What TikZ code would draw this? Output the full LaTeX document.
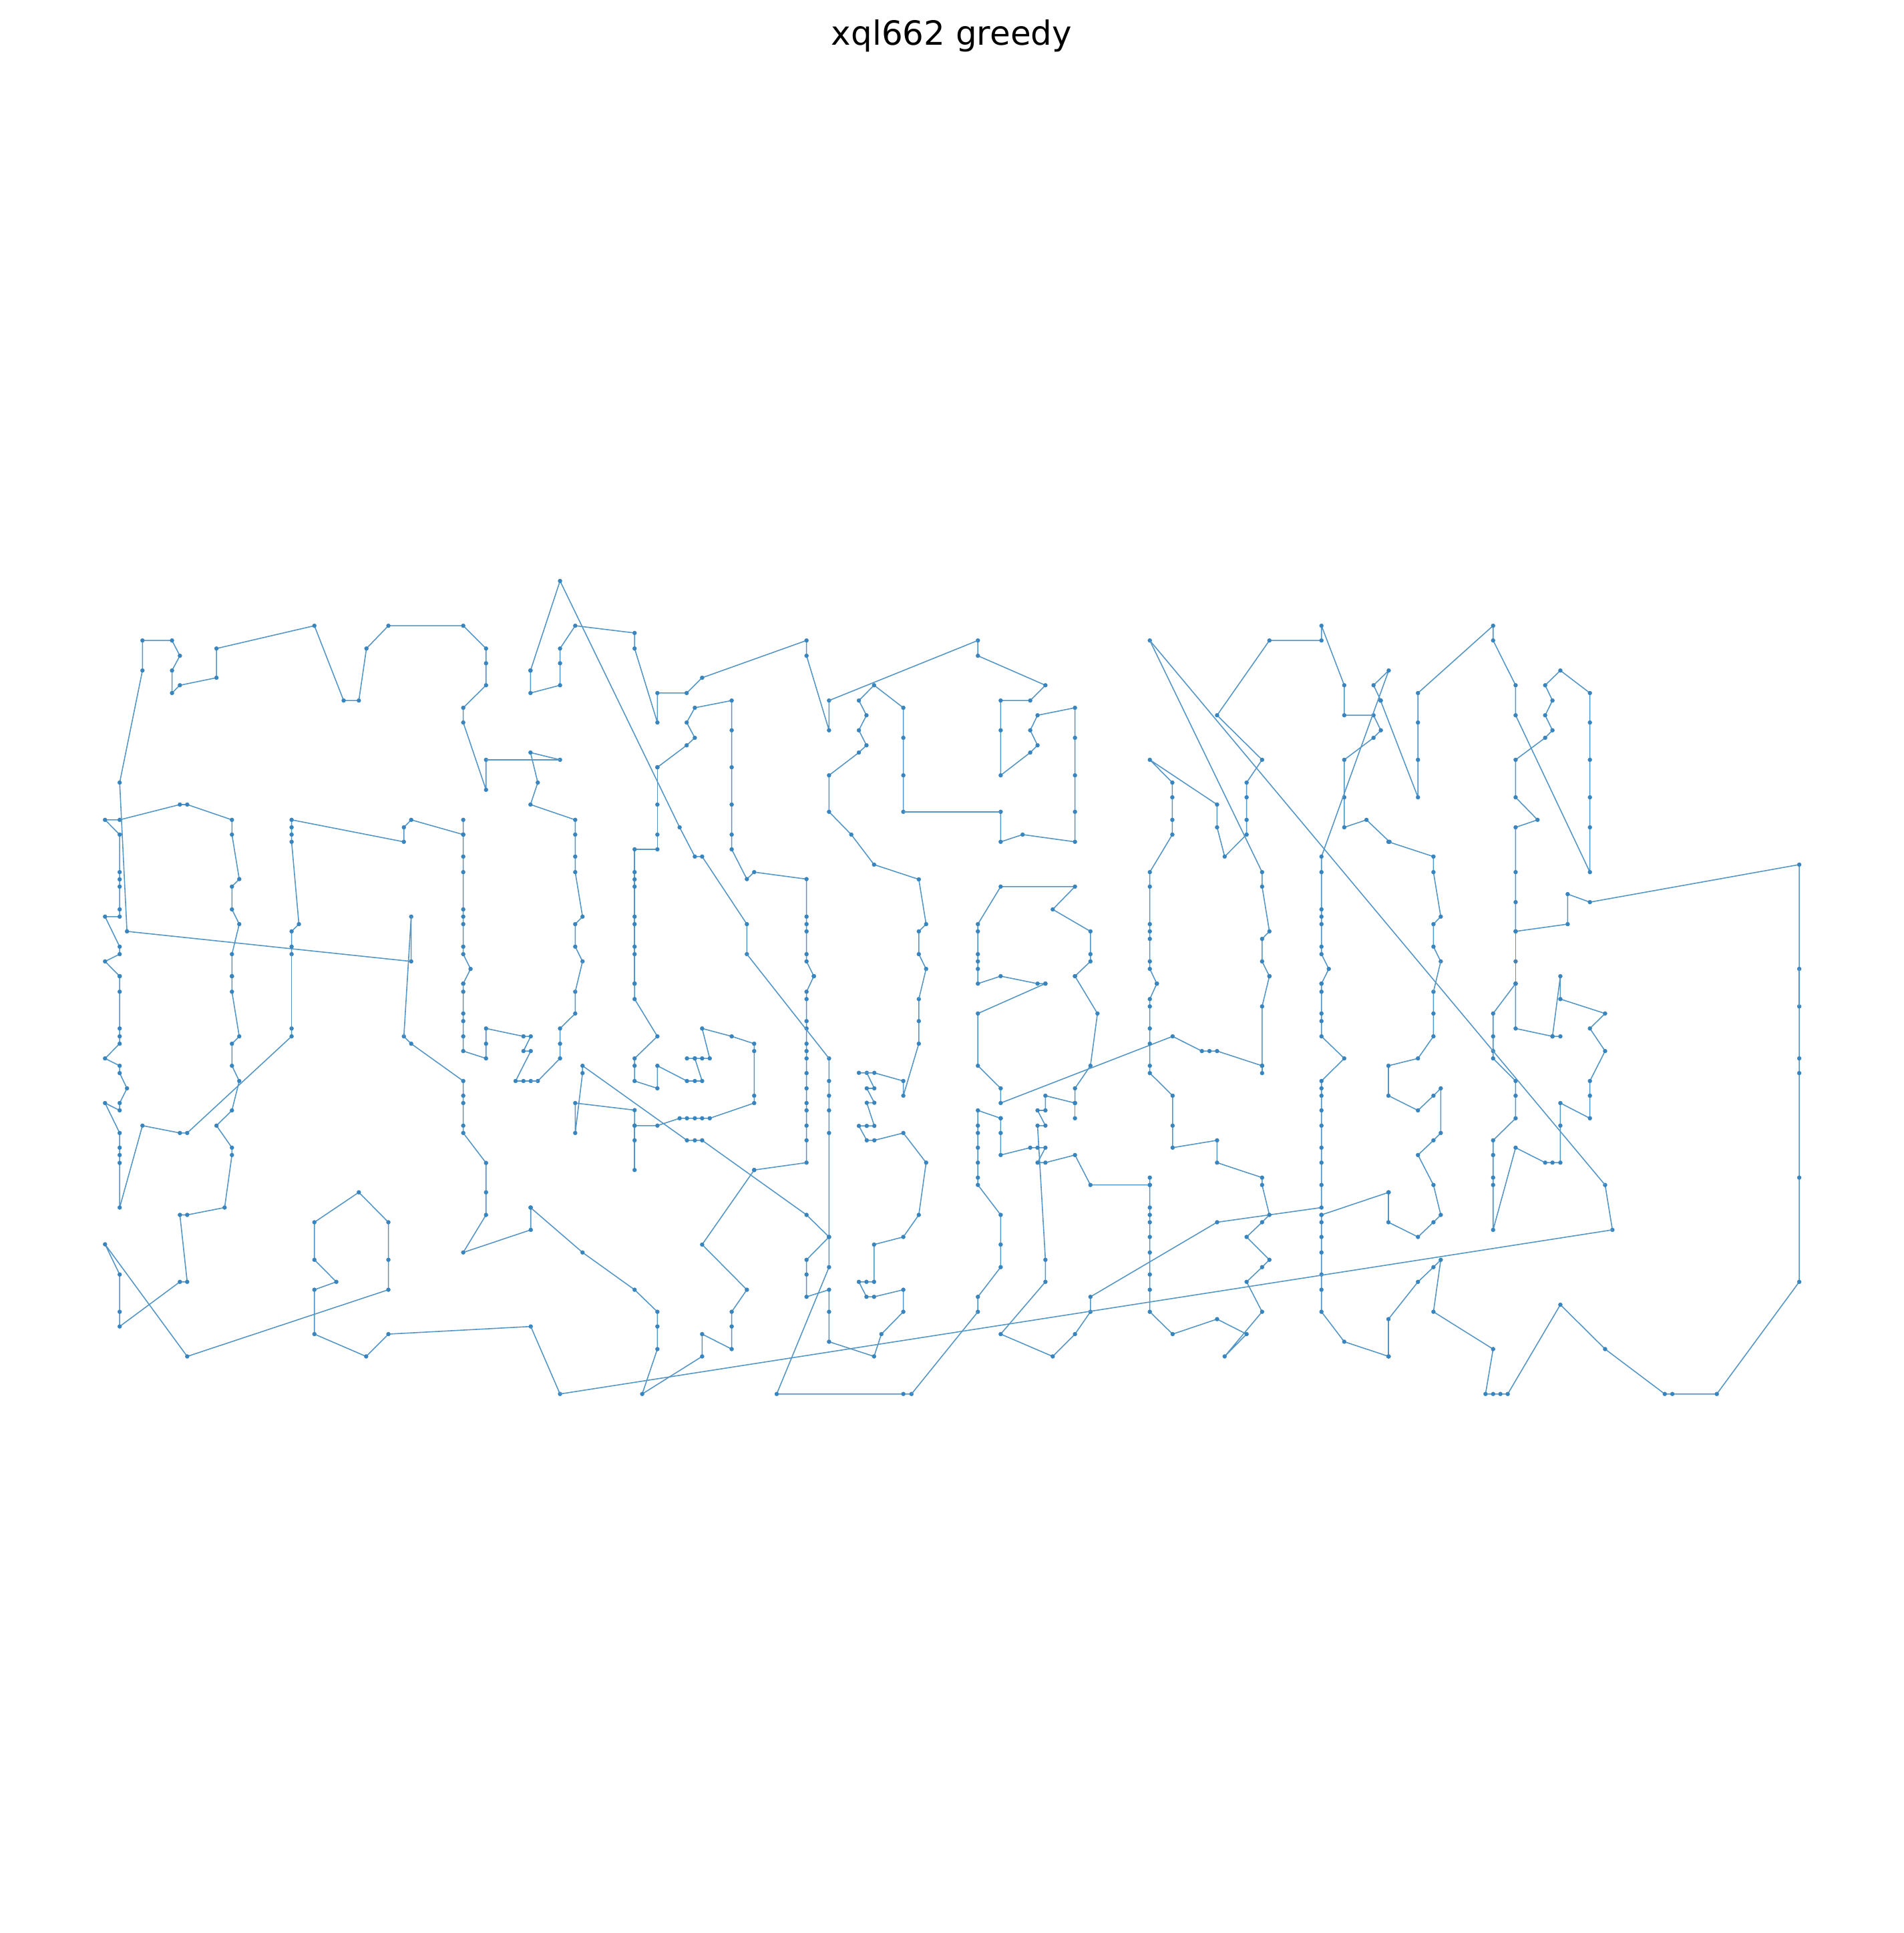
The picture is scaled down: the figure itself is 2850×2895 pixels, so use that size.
\documentclass[tikz,border=0pt]{standalone}
\usepackage{fontspec}
\setmainfont{DejaVu Sans}
\definecolor{tourline}{RGB}{84,150,198}
\definecolor{tourdot}{RGB}{55,132,191}

\begin{document}
\begin{tikzpicture}[
    x=0.01cm, y=-0.01cm,
    % Tour styles
    tourpath/.style={
      draw=tourline, line width=0.45pt, line join=round,
      mark=*, mark size=0.85pt,
      mark options={draw=tourdot, fill=tourdot, line width=0.1pt}
    },
    tourlink/.style={draw=tourline, line width=0.45pt},
    % Tile frames (tiles of 660 px, read on a 1568 grid)
    tilehigh/.style={x=0.0042092cm, y=-0.0040179cm},
    tilelow/.style={x=0.0042092cm, y=-0.0040816cm},
    titlelabel/.style={font=\fontsize{14.2}{17}\selectfont, anchor=base, inner sep=0pt}
  ]
  \useasboundingbox (0,0) rectangle (2850,2895);

  % ============ Title ============
  \node[titlelabel] (title) at (1425,68) {xql662 greedy};

  % ============ Tile 1 (top left) ============
  \begin{scope}[shift={(140,850)}, tilehigh]
    \draw[tourpath] plot coordinates {(93,1524) (41,1469) (93,1442) (93,1414) (41,1302) (93,1302) (93,1275) (93,1190) (93,1163) (93,1136) (93,996) (41,941) (93,941) (307,884) (333,884) (492,941) (492,996) (518,1162) (492,1190) (492,1275) (518,1330) (492,1442) (492,1524)};
    \draw[tourpath] plot coordinates {(1395,717) (1395,829) (1314,578) (1314,523) (1395,439) (1395,357) (1395,302) (1314,217) (1048,217) (970,302) (943,496) (889,496) (785,217) (437,302) (437,411) (307,439) (279,468) (279,384) (307,329) (279,272) (174,272) (174,384) (93,802) (119,1357) (1129,1469) (1129,1302)};
    \draw[tourpath] plot coordinates {(704,1442) (704,1414) (704,1357) (730,1330) (704,1023) (704,996) (704,969) (704,941) (1103,1023) (1103,969) (1129,941) (1314,996)};
    \draw[tourpath] plot coordinates {(1314,941) (1314,996) (1314,1078) (1314,1136) (1314,1275) (1314,1302) (1314,1330) (1314,1414) (1314,1442) (1340,1497) (1314,1552)};
    \coordinate (w1a) at (1395,717);
    \coordinate (w1b) at (1129,1302);
    \coordinate (w1c) at (704,1442);
  \end{scope}

  % ============ Tile 2 ============
  \begin{scope}[shift={(780,850)}, tilehigh]
    \draw[tourpath] plot coordinates {(34,384) (139,50) (564,969) (618,1078) (644,1078) (803,1330) (803,1442)};
    \draw[tourpath] plot coordinates {(34,384) (34,468) (139,439) (139,357) (139,302) (193,217) (404,244) (404,302) (485,578) (485,468) (589,468) (644,411) (1015,272) (1015,329) (1095,607) (1095,496)};
    \draw[tourpath] plot coordinates {(139,717) (34,690) (60,802) (34,884) (193,941) (193,996) (193,1078) (193,1136) (219,1302) (193,1330) (193,1414) (219,1469)};
    \draw[tourpath] plot coordinates {(485,745) (589,663) (618,635) (589,578) (618,523) (749,496) (749,607) (749,745) (749,884) (749,996) (749,1051) (803,1162) (829,1136) (1015,1162) (1015,1302) (1015,1330) (1015,1357) (1015,1442) (1015,1469) (1041,1524)};
    \draw[tourpath] plot coordinates {(485,745) (485,884) (485,996) (485,1051) (404,1051) (404,1136) (404,1163) (404,1190) (404,1302) (404,1330) (404,1414) (404,1442) (404,1552)};
    \draw[tourpath] plot coordinates {(1359,911) (1359,775) (1359,635) (1359,523) (1255,439) (1201,496) (1228,551) (1201,607) (1228,663) (1201,690) (1095,775) (1095,911) (1174,996) (1255,1108) (1414,1163) (1440,1330) (1414,1357) (1414,1442) (1440,1497)};
    \coordinate (w2a) at (803,1442);
    \coordinate (w2b) at (1095,496);
    \coordinate (w2c) at (139,717);
    \coordinate (w2d) at (219,1469);
    \coordinate (w2e) at (1359,911);
    \coordinate (w2f) at (1440,1497);
  \end{scope}

  % ============ Tile 3 ============
  \begin{scope}[shift={(1420,850)}, tilehigh]
    \draw[tourpath] plot coordinates {(105,272) (105,329) (345,439) (291,496) (186,496) (186,607) (186,775) (291,690) (317,663) (291,607) (317,551) (450,523) (450,635) (450,775) (450,911) (450,1023) (264,996) (186,1023) (186,911)};
    \draw[tourpath] plot coordinates {(450,1524) (505,1469) (505,1442) (505,1357) (371,1275) (450,1190) (186,1190) (105,1330) (105,1357) (105,1442) (105,1469) (105,1497) (105,1552) (186,1524) (317,1552) (345,1552)};
    \draw[tourpath] plot coordinates {(716,272) (1115,1136) (1115,1190) (1141,1357) (1115,1385) (1115,1469) (1141,1524)};
    \draw[tourpath] plot coordinates {(741,1552) (716,1497) (716,1469) (716,1385) (716,1357) (716,1330) (716,1190) (716,1136) (796,996) (796,941) (796,857) (796,802) (716,717) (955,884) (955,969) (982,1078) (1060,996) (1060,941) (1060,857) (1060,802) (1115,717) (955,551) (1141,272) (1326,272) (1326,217) (1407,439) (1407,551) (1511,551) (1537,607) (1511,635) (1407,717) (1407,857) (1407,969) (1486,941) (1568,1023)};
    \draw[tourpath] plot coordinates {(1537,496) (1511,439) (1565,384) (1326,1078) (1326,1136) (1326,1275) (1326,1302) (1326,1330) (1326,1414) (1326,1442) (1352,1497) (1326,1552)};
    \coordinate (w3a) at (105,272);
    \coordinate (w3b) at (186,911);
    \coordinate (w3c) at (716,272);
  \end{scope}

  % ============ Tile 4 (top right) ============
  \begin{scope}[shift={(2060,850)}, tilehigh]
    \draw[tourpath] plot coordinates {(17,496) (150,857) (150,717) (150,578) (150,468) (417,217) (417,272) (497,439) (497,551) (761,1136) (761,969) (761,857) (761,717) (761,578) (761,468) (656,384) (602,439) (628,496) (602,551) (628,607) (602,635) (497,717) (497,857) (575,941) (497,969) (497,1136) (497,1248) (497,1357) (682,1330) (682,1218) (761,1248) (1505,1108) (1505,1497)};
    \draw[tourpath] plot coordinates {(497,1357) (497,1469) (497,1552)};
    \draw[tourpath] plot coordinates {(45,1023) (205,1078) (205,1136) (231,1302) (205,1330) (205,1414) (231,1469)};
    \coordinate (w4a) at (1505,1497);
    \coordinate (w4b) at (231,1469);
  \end{scope}

  % ============ Tile 5 (bottom left) ============
  \begin{scope}[shift={(140,1460)}, tilelow]
    \draw[tourpath] plot coordinates {(93,5) (93,62) (93,197) (93,226) (93,253) (41,307) (93,334) (93,361) (119,417) (93,471) (93,498) (41,471) (93,581) (93,635) (93,662) (93,691) (93,855) (174,554) (307,581) (333,581) (704,226) (704,197)};
    \draw[tourpath] plot coordinates {(492,5) (492,62) (518,226) (492,253) (492,334) (518,390) (492,498) (437,554) (492,635) (492,662) (466,855) (333,882) (307,882) (333,1128) (307,1128) (93,1292) (93,1238) (93,1101) (41,990) (333,1402) (1048,1157) (1048,1047) (1048,909) (943,799) (785,909) (785,1047) (863,1128) (785,1157) (785,1320) (969,1402) (1048,1320) (1554,1292)};
    \draw[tourpath] plot coordinates {(1103,226) (1129,253) (1314,390) (1314,444) (1314,471) (1314,554) (1314,581) (1395,691) (1395,799) (1395,882) (1314,1020) (1554,937) (1554,855)};
    \draw[tourpath] plot coordinates {(1314,32) (1314,62) (1314,142) (1314,170) (1314,226) (1314,280) (1395,307) (1395,253) (1395,197) (1528,226) (1554,226) (1528,280) (1554,280) (1500,390) (1528,390) (1554,390)};
    \coordinate (w5a) at (704,197);
    \coordinate (w5b) at (1554,1292);
    \coordinate (w5c) at (1103,226);
    \coordinate (w5e) at (1554,390);
  \end{scope}

  % ============ Tile 6 ============
  \begin{scope}[shift={(780,1460)}, tilelow]
    \draw[tourpath] plot coordinates {(60,390) (139,307) (139,253) (139,197) (193,142) (193,62)};
    \draw[tourpath] plot coordinates {(404,32) (404,89) (485,226) (404,307) (404,334) (404,390) (485,417) (485,334) (590,390) (618,390) (644,390) (618,307)};
    \draw[tourpath] plot coordinates {(590,307) (618,307) (644,307) (671,307) (644,197) (749,226) (829,253) (829,280) (829,444) (829,471) (671,527) (644,527) (618,527) (590,527) (564,527) (485,554) (404,554) (404,497) (193,471) (193,581) (219,361) (219,334) (590,608) (618,608) (644,608) (1015,882) (1095,963) (1015,1047) (1015,1101) (1015,1183) (1095,1157) (1095,1238) (1095,1348) (1255,1402) (1281,1320) (1359,1238) (1359,1157) (1255,1183) (1228,1183) (1201,1128) (1228,1128) (1255,1128) (1255,991) (1359,963) (1414,882) (1440,690) (1359,581) (1256,608) (1229,608) (1201,555) (1229,555) (1256,555) (1229,470) (1256,470) (1229,417) (1256,417) (1229,360)};
    \draw[tourpath] plot coordinates {(1201,360) (1256,360) (1359,390) (1359,444) (1414,253) (1414,170) (1414,89)};
    \draw[tourpath] plot coordinates {(404,554) (404,608) (404,717)};
    \draw[tourpath] plot coordinates {(829,717) (1015,690) (1015,608) (1015,554) (1015,498) (1015,471) (1015,417) (1015,361) (1015,307) (1015,280) (1015,253) (1015,197) (1015,170) (1015,89) (1015,62) (1041,5)};
    \draw[tourpath] plot coordinates {(829,717) (644,991) (803,1157) (749,1238) (749,1292) (749,1375) (644,1320) (644,1402) (431,1540) (485,1375) (485,1292) (485,1238) (404,1157) (219,1020) (34,855)};
    \draw[tourpath] plot coordinates {(1095,307) (1095,390) (1095,444) (1095,498) (1095,581) (1095,963) (1095,1074) (909,1540) (1359,1540) (1388,1540)};
    \draw[tourpath] plot coordinates {(139,1540)};
    \coordinate (w6a) at (60,390);
    \coordinate (w6b) at (193,62);
    \coordinate (w6d) at (1095,307);
    \coordinate (w6e) at (1388,1540);
    \coordinate (w6f) at (139,1540);
    \coordinate (w6g) at (1414,89);
  \end{scope}

  % ============ Tile 7 ============
  \begin{scope}[shift={(1420,1460)}, tilelow]
    \draw[tourpath] plot coordinates {(450,5) (530,142) (505,334) (450,417) (450,471) (345,444) (345,498) (317,498) (345,554) (317,554) (345,1047) (345,1128) (186,1320) (371,1402) (450,1320) (505,1238) (505,1183) (955,909) (1326,855) (1326,772) (1326,690) (1326,635) (1326,554) (1326,498) (1326,444) (1326,417) (1326,390) (1407,307) (1326,226) (1326,170) (1326,142) (1326,62) (1326,32)};
    \draw[tourpath] plot coordinates {(450,471) (450,527)};
    \draw[tourpath] plot coordinates {(345,32) (105,142) (105,334) (186,417) (186,471) (797,226) (901,280) (928,280) (955,280) (1115,334) (1115,116) (1141,5)};
    \draw[tourpath] plot coordinates {(1115,334) (1115,361)};
    \draw[tourpath] plot coordinates {(186,527) (105,498) (105,554) (105,581) (105,635) (105,690) (105,745) (105,772) (186,882) (186,991) (186,1074) (105,1183) (105,1238)};
    \draw[tourpath] plot coordinates {(186,527) (186,581) (186,662) (291,635) (317,635) (345,635) (317,690) (345,690) (450,662) (505,772) (716,772)};
    \draw[tourpath] plot coordinates {(741,32) (716,89) (716,116) (716,197) (716,253) (716,334) (716,361) (797,444) (797,554) (797,635) (955,608) (955,690) (1115,745) (1115,772) (1141,882) (1115,909) (1060,963) (1141,1047) (1115,1074) (1060,1128) (1115,1238) (982,1402) (1060,1320) (955,1265) (797,1320) (716,1238) (716,1157) (716,1101) (716,1020) (716,963) (716,909) (716,882) (716,855) (716,772) (716,745)};
    \draw[tourpath] plot coordinates {(1326,882) (1326,909) (1326,963) (1326,1020) (1326,1101) (1326,1157) (1326,1238) (1407,1348) (1565,1402)};
    \draw[tourpath] plot coordinates {(1326,882) (1565,799)};
    \coordinate (w7a) at (105,1238);
  \end{scope}

  % ============ Tile 8 (bottom right) ============
  \begin{scope}[shift={(2060,1460)}, tilelow]
    \draw[tourpath] plot coordinates {(205,62) (205,142) (205,226) (150,307) (45,334) (45,444) (150,498) (205,444) (231,417) (231,581) (205,608) (150,662) (205,772) (231,882) (205,909) (150,963) (45,909) (45,799)};
    \draw[tourpath] plot coordinates {(497,32) (417,142) (417,226) (417,280) (417,307) (497,390) (497,444) (497,527) (417,608) (417,662) (417,745) (417,772) (417,937) (497,635) (602,690) (628,690) (656,690) (656,554) (656,471) (761,527) (761,444) (761,390) (815,280) (761,197) (815,142) (656,89) (656,5) (628,226) (656,226)};
    \draw[tourpath] plot coordinates {(497,32) (497,197) (628,226)};
    \draw[tourpath] plot coordinates {(45,1402) (45,1265) (150,1128) (205,1074) (231,1047) (205,1238) (417,1375) (390,1540) (417,1540) (443,1540) (469,1540) (656,1212) (815,1375) (1027,1540) (1054,1540) (1212,1540) (1505,1128) (1505,745) (1505,361) (1505,307) (1505,116)};
    \draw[tourpath] plot coordinates {(815,772) (841,937)};
    \coordinate (w8a) at (205,62);
    \coordinate (w8b) at (1505,116);
    \coordinate (w8c) at (815,772);
    \coordinate (w8d) at (841,937);
  \end{scope}

  % ============ Links between tiles ============
  \draw[tourlink] (w1a) -- (w2c);
  \draw[tourlink] (w1b) -- (w5c);
  \draw[tourlink] (w1c) -- (w5a);
  \draw[tourlink] (w2a) -- (w6d);
  \draw[tourlink] (w2b) -- (w3a);
  \draw[tourlink] (w2d) -- (w6b);
  \draw[tourlink] (w2e) -- (w3b);
  \draw[tourlink] (w2f) -- (w6g);
  \draw[tourlink] (w3c) -- (w8c);
  \draw[tourlink] (w4a) -- (w8b);
  \draw[tourlink] (w4b) -- (w8a);
  \draw[tourlink] (w5b) -- (w6f);
  \draw[tourlink] (w5e) -- (w6a);
  \draw[tourlink] (w6e) -- (w7a);
  \draw[tourlink] (w6f) -- (w8d);

\end{tikzpicture}
\end{document}
